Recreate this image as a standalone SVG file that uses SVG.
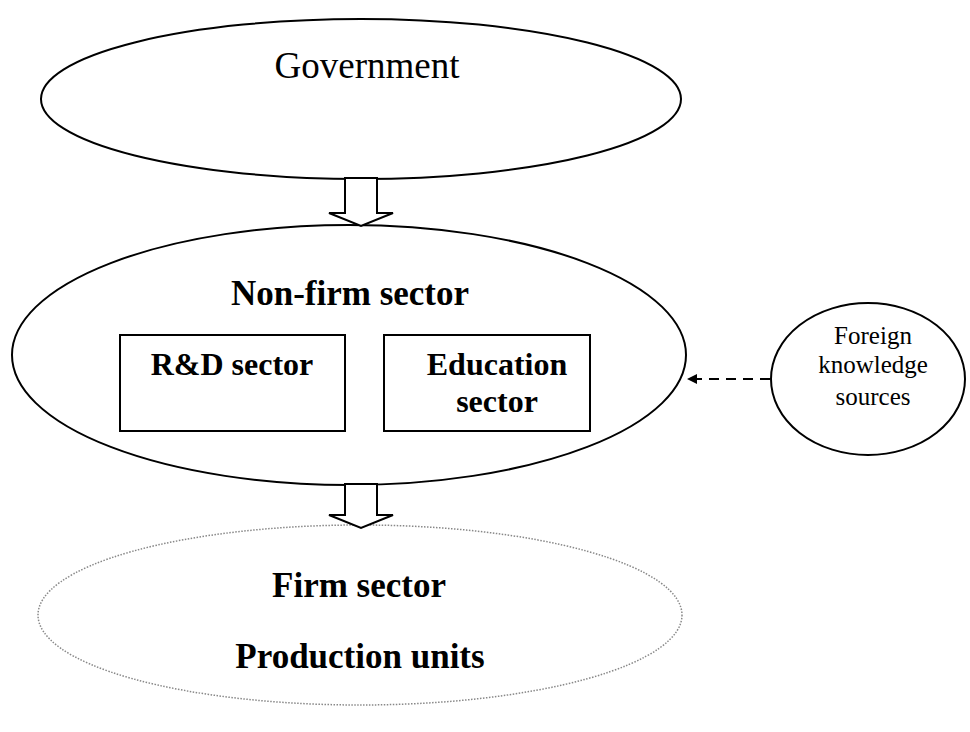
<svg xmlns="http://www.w3.org/2000/svg" width="970" height="732" viewBox="0 0 970 732">
<style>
.n{fill:#fff;stroke:#000;stroke-width:2}
.t{font-family:"Liberation Serif","Times New Roman","DejaVu Serif",serif;fill:#000;text-anchor:middle}
.b{font-weight:700;font-size:32px}
.lg{font-size:35px}
.blk{fill:#fff;stroke:#000;stroke-width:2;stroke-linejoin:miter}
</style>
<defs>
<marker id="ah" markerWidth="10" markerHeight="10" refX="9" refY="5" orient="auto" markerUnits="userSpaceOnUse"><path d="M0,0 L10,5 L0,10 Z" fill="#000"/></marker>
</defs>
<rect width="970" height="732" fill="#fff"/>
<g id="government">
<ellipse class="n" cx="361" cy="99" rx="320" ry="80"/>
<text class="t" x="367" y="78" font-size="37">Government</text>
</g>
<g id="firm">
<ellipse cx="360" cy="615" rx="322" ry="90" fill="#fff" stroke="#888" stroke-width="1.5" stroke-dasharray="1.5,1.5"/>
<text class="t b lg" x="359" y="597">Firm sector</text>
<text class="t b lg" x="360" y="668">Production units</text>
</g>
<g id="nonfirm">
<ellipse class="n" cx="349" cy="355" rx="337" ry="130"/>
<text class="t b lg" x="350" y="305">Non-firm sector</text>
</g>
<g id="rd">
<rect class="n" x="120" y="335" width="225" height="96"/>
<text class="t b" x="232" y="375">R&amp;D sector</text>
</g>
<g id="education">
<rect class="n" x="384" y="335" width="206" height="96"/>
<text class="t b" x="497" y="375">Education</text>
<text class="t b" x="497" y="412">sector</text>
</g>
<g id="foreign">
<ellipse class="n" cx="868" cy="379" rx="97" ry="76"/>
<text class="t" x="873" y="344" font-size="25">Foreign</text>
<text class="t" x="873" y="373" font-size="25">knowledge</text>
<text class="t" x="873" y="405" font-size="25">sources</text>
</g>
<g id="connectors">
<path class="blk" d="M345,178 L377,178 L377,213 L393,213 L361,226 L329,213 L345,213 Z"/>
<path class="blk" d="M345,484 L377,484 L377,515 L393,515 L361,528 L329,515 L345,515 Z"/>
<line x1="770" y1="379" x2="688" y2="379" stroke="#000" stroke-width="2" stroke-dasharray="10,7" marker-end="url(#ah)"/>
</g>
</svg>
